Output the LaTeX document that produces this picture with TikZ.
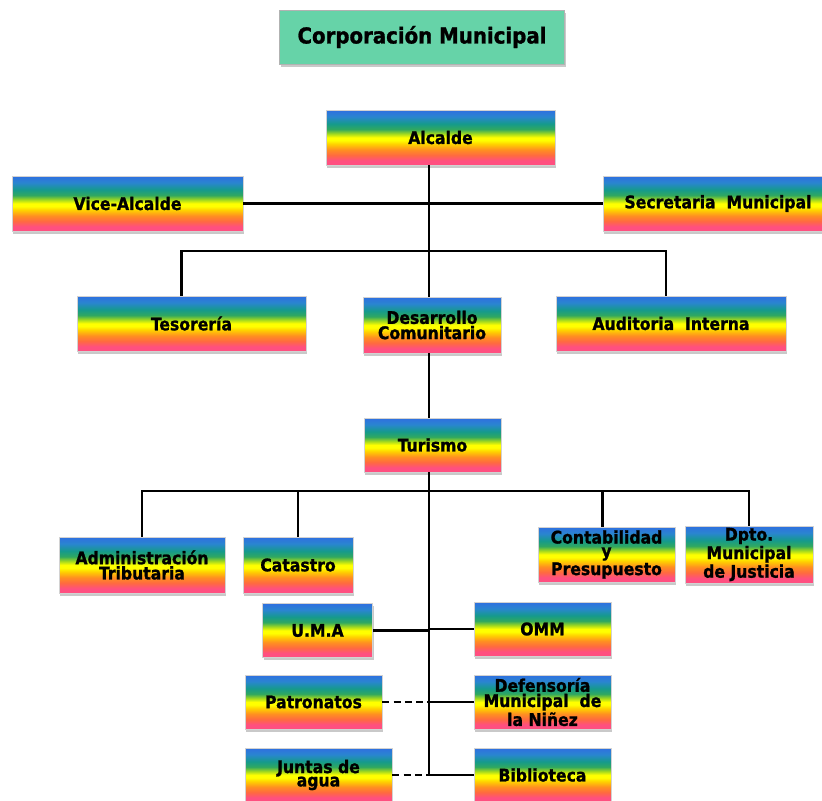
\documentclass[tikz,border=0pt]{standalone}
\usepackage{fontspec}
\setmainfont{DejaVu Sans}[BoldFeatures={FakeBold=1.5}]
\newfontfamily\cajafont{DejaVuSansCondensed-Bold.ttf}[FakeBold=1.2]
\usepackage{tikz}
\usetikzlibrary{shadows, calc, positioning}
\usepackage{xcolor}

\definecolor{azulc}{HTML}{2F6FE0}
\definecolor{celestec}{HTML}{2A85D0}
\definecolor{turquesac}{HTML}{159A8C}
\definecolor{verdec}{HTML}{30A860}
\definecolor{limac}{HTML}{A0D820}
\definecolor{amarilloc}{HTML}{FFFF00}
\definecolor{oroc}{HTML}{FFD000}
\definecolor{naranjac}{HTML}{FF9020}
\definecolor{rojizoc}{HTML}{FF6A40}
\definecolor{rosac}{HTML}{FF4F80}
\definecolor{menta}{HTML}{66D3A8}

\pgfdeclareverticalshading{arcoiris}{100bp}{color(0bp)=(rosac); color(29bp)=(rosac);
  color(34bp)=(rojizoc); color(39bp)=(naranjac); color(44bp)=(oroc); color(47.5bp)=(amarilloc);
  color(50bp)=(amarilloc); color(53.5bp)=(limac); color(57.5bp)=(verdec); color(62.5bp)=(turquesac);
  color(69bp)=(celestec); color(75bp)=(azulc); color(100bp)=(azulc)}

\begin{document}
\begin{tikzpicture}[
		x=0.02cm, y=-0.02cm,
		caja/.style={draw=gray!35, thin, shading=arcoiris, inner sep=1pt, align=center,
			minimum height=1.1cm, font=\cajafont\fontsize{9.9}{7.6}\selectfont,
			drop shadow={shadow xshift=0.6pt, shadow yshift=-1.6pt, fill=gray!60, opacity=.7}},
		titulo/.style={draw=gray!60, fill=menta, minimum width=5.7cm, minimum height=1.08cm,
			font=\cajafont\fontsize{12.5}{13}\selectfont,
			drop shadow={shadow xshift=0.6pt, shadow yshift=-1.6pt, fill=gray!60, opacity=.7}},
		linea/.style={draw, line width=1.3pt},
		punteada/.style={draw, line width=1.3pt, dash pattern=on 4pt off 2.4pt}
		]
		\useasboundingbox (0,0) rectangle (822,801);
		
		% Las cajas
		\node[titulo] (corp) at (422,37) {Corporación Municipal};
		\node[caja, minimum width=4.58cm] (alcalde) at (440.5,137.5) {Alcalde};
		\node[caja, minimum width=4.62cm] (vice) at (127.5,203.5) {Vice-Alcalde};
		\node[caja, minimum width=4.6cm] (secretaria) at (718,203.5) {Secretaria~ Municipal};
		\node[caja, minimum width=4.58cm] (tesoreria) at (191.5,323.5) {Tesorería};
		\node[caja, minimum width=2.76cm, minimum height=1.12cm] (desarrollo) at (432,325) {Desarrollo\\Comunitario};
		\node[caja, minimum width=4.6cm] (auditoria) at (671,323.5) {Auditoria~ Interna};
		\node[caja, minimum width=2.74cm, minimum height=1.08cm] (turismo) at (432.5,445) {Turismo};
		\node[caja, minimum width=3.32cm, minimum height=1.12cm,
			font=\cajafont\fontsize{9.9}{6.4}\selectfont] (admin) at (142,565) {Administración\\Tributaria};
		\node[caja, minimum width=2.2cm, minimum height=1.12cm] (catastro) at (298,565) {Catastro};
		\node[caja, minimum width=2.74cm] (contab) at (606.5,554.5) {Contabilidad\\y\\Presupuesto};
		\node[caja, minimum width=2.56cm] (dpto) at (749,554.5) {Dpto.\\Municipal\\de Justicia};
		\node[caja, minimum width=2.2cm, minimum height=1.08cm] (uma) at (317.5,630.5) {U.M.A};
		\node[caja, minimum width=2.74cm, minimum height=1.08cm] (omm) at (542.5,629) {OMM};
		\node[caja, minimum width=2.74cm, minimum height=1.08cm] (patronatos) at (313.5,702) {Patronatos};
		\node[caja, minimum width=2.74cm, minimum height=1.08cm] (defensoria) at (542.5,702) {Defensoría\\Municipal~ de\\la Niñez};
		\node[caja, minimum width=2.94cm, minimum height=1.08cm] (juntas) at (318.5,775) {Juntas de\\agua};
		\node[caja, minimum width=2.74cm, minimum height=1.08cm] (biblioteca) at (542.5,775) {Biblioteca};
		
		% Puntos de union
		\coordinate (b1) at (429,251);
		\coordinate (b2) at (429,491);
		\coordinate (fin) at (429,776);
		
		% Las lineas
		\draw[linea] (vice) -- (secretaria);
		\draw[linea] (alcalde.south -| b1) -- (desarrollo.north -| b1);
		\draw[linea] ($(tesoreria.north)+(-10,0)$) |- (b1) -| ($(auditoria.north)+(-5,0)$);
		\draw[linea] (desarrollo.south -| b1) -- (turismo.north -| b1);
		\draw[linea] (turismo.south -| b2) -- (fin);
		\draw[linea] (admin.north) |- (b2) -| (dpto.north);
		\draw[linea] (catastro.north) -- (catastro.north |- b2);
		\draw[linea] ($(contab.north)+(-4,0)$) -- ($(contab.north |- b2)+(-4,0)$);
		\draw[linea] (uma.east) -- (uma.east -| b2);
		\draw[linea] (omm.west) -- (omm.west -| b2);
		\draw[punteada] (patronatos.east) -- (patronatos.east -| b2);
		\draw[linea] (defensoria.west) -- (defensoria.west -| b2);
		\draw[punteada] (juntas.east) -- ($(juntas.east -| b2)+(8,0)$);
		\draw[linea] (biblioteca.west) -- (biblioteca.west -| b2);
	\end{tikzpicture}
\end{document}
